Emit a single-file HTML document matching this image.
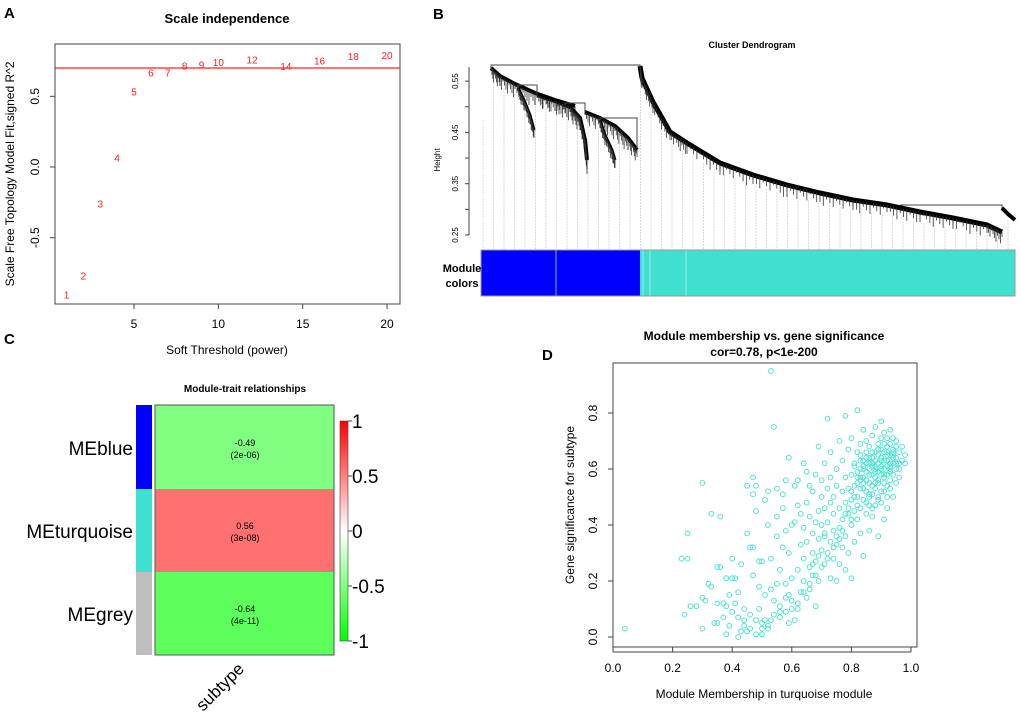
<!DOCTYPE html>
<html><head><meta charset="utf-8"><style>
html,body{margin:0;padding:0;background:#fff;}
svg{display:block;font-family:"Liberation Sans",Arial,sans-serif;}
</style></head><body>
<svg id="fig" width="1020" height="718" viewBox="0 0 1020 718" xmlns="http://www.w3.org/2000/svg">
<rect width="1020" height="718" fill="#fff"/>
<text x="4" y="18" font-size="15" font-weight="bold">A</text>
<text x="433" y="19" font-size="15" font-weight="bold">B</text>
<text x="4" y="344" font-size="15" font-weight="bold">C</text>
<text x="542" y="360" font-size="15" font-weight="bold">D</text>

<g id="panelA">
<text x="227" y="23" font-size="13" font-weight="bold" text-anchor="middle">Scale independence</text>
<rect x="55" y="44" width="345" height="260" fill="none" stroke="#444" stroke-width="1"/>
<text transform="translate(14,174) rotate(-90)" font-size="12" text-anchor="middle">Scale Free Topology Model Fit,signed R^2</text>
<text x="227" y="354" font-size="12" text-anchor="middle">Soft Threshold (power)</text>
</g>

<g id="panelB">
<text x="752" y="48" font-size="9" font-weight="bold" text-anchor="middle">Cluster Dendrogram</text>
<text transform="translate(440,160) rotate(-90)" font-size="8" text-anchor="middle">Height</text>
<g id="dendroLines"></g>
<g id="dendro"></g>
<rect x="481" y="250" width="159" height="46" fill="#0000ff"/>
<rect x="640" y="250" width="375" height="46" fill="#40e0d0"/>
<line x1="556" y1="250" x2="556" y2="296" stroke="#8fa8ff" stroke-width="1"/>
<line x1="643" y1="250" x2="643" y2="296" stroke="#9ed" stroke-width="1"/>
<line x1="650" y1="250" x2="650" y2="296" stroke="#9ed" stroke-width="1"/>
<line x1="686" y1="250" x2="686" y2="296" stroke="#9ed" stroke-width="1"/>
<rect x="481" y="250" width="534" height="46" fill="none" stroke="#999" stroke-width="1"/>
<text x="462" y="272" font-size="11" font-weight="bold" text-anchor="middle">Module</text>
<text x="462" y="287" font-size="11" font-weight="bold" text-anchor="middle">colors</text>
</g>

<g id="panelC">
<text x="245" y="392" font-size="10" font-weight="bold" text-anchor="middle">Module-trait relationships</text>
<rect x="136" y="405" width="16" height="84" fill="#0000ff"/>
<rect x="136" y="489" width="16" height="83" fill="#40e0d0"/>
<rect x="136" y="572" width="16" height="83" fill="#bebebe"/>
<rect x="155" y="405" width="179" height="84" fill="#80ff80"/>
<rect x="155" y="489" width="179" height="83" fill="#ff7070"/>
<rect x="155" y="572" width="179" height="83" fill="#5cff5c"/>
<rect x="155" y="405" width="179" height="250" fill="none" stroke="#555" stroke-width="1"/>
<text x="245" y="446" font-size="9" text-anchor="middle">-0.49</text>
<text x="245" y="458" font-size="9" text-anchor="middle">(2e-06)</text>
<text x="245" y="529" font-size="9" text-anchor="middle">0.56</text>
<text x="245" y="541" font-size="9" text-anchor="middle">(3e-08)</text>
<text x="245" y="612" font-size="9" text-anchor="middle">-0.64</text>
<text x="245" y="624" font-size="9" text-anchor="middle">(4e-11)</text>
<text x="133" y="455" font-size="19" text-anchor="end">MEblue</text>
<text x="133" y="538" font-size="19" text-anchor="end">MEturquoise</text>
<text x="133" y="621" font-size="19" text-anchor="end">MEgrey</text>
<text transform="translate(203,712) rotate(-45)" font-size="17">subtype</text>
<defs><linearGradient id="cb" x1="0" y1="0" x2="0" y2="1">
<stop offset="0" stop-color="#ff0000"/><stop offset="0.5" stop-color="#ffffff"/><stop offset="1" stop-color="#00ff00"/></linearGradient></defs>
<rect x="340" y="421" width="8" height="220" fill="url(#cb)" stroke="#444" stroke-width="0.6"/>
<g id="cbTicks"></g>
</g>

<g id="panelD">
<text x="764" y="340" font-size="12" font-weight="bold" text-anchor="middle">Module membership vs. gene significance</text>
<text x="764" y="356" font-size="12" font-weight="bold" text-anchor="middle">cor=0.78, p&lt;1e-200</text>
<rect x="613" y="363" width="304" height="284" fill="none" stroke="#444" stroke-width="1"/>
<text transform="translate(574,505) rotate(-90)" font-size="12" text-anchor="middle">Gene significance for subtype</text>
<text x="764" y="698" font-size="12" text-anchor="middle">Module Membership in turquoise module</text>
</g>
</svg>
<script>
const NS='http://www.w3.org/2000/svg';
const aPowers=[1,2,3,4,5,6,7,8,9,10,12,14,16,18,20];
const aFit=[-0.905,-0.77,-0.26,0.064,0.53,0.665,0.665,0.714,0.72,0.74,0.757,0.71,0.75,0.78,0.79];
const aXTicks=[5,10,15,20];
const aYTicks=[-0.5,0.0,0.5];
const aYTickLabels=['-0.5','0.0','0.5'];
const aCutoff=0.70;
const bYTicks=[0.25,0.30,0.35,0.40,0.45,0.50,0.55];
const bYTickLabels=['0.25','','0.35','','0.45','','0.55'];
const cTicks=[1,0.5,0,-0.5,-1];
const cTickLabels=['1','0.5','0','-0.5','-1'];
const dMM=[0.04,0.53,0.54,0.30,0.33,0.36,0.25,0.23,0.25,0.24,0.26,0.28,0.30,0.30,0.31,0.32,0.33,0.34,0.35,0.35,0.35,0.36,0.37,0.37,0.38,0.38,0.39,0.39,0.38,0.40,0.40,0.40,0.41,0.41,0.42,0.42,0.43,0.43,0.44,0.44,0.45,0.45,0.45,0.46,0.46,0.47,0.47,0.47,0.47,0.48,0.48,0.48,0.48,0.49,0.49,0.49,0.50,0.50,0.50,0.51,0.51,0.51,0.52,0.52,0.52,0.53,0.53,0.53,0.54,0.54,0.55,0.55,0.55,0.55,0.56,0.56,0.56,0.57,0.57,0.57,0.58,0.58,0.58,0.58,0.59,0.59,0.59,0.59,0.60,0.60,0.60,0.61,0.61,0.61,0.62,0.62,0.62,0.62,0.63,0.63,0.63,0.64,0.64,0.64,0.64,0.65,0.65,0.65,0.65,0.66,0.66,0.66,0.66,0.67,0.67,0.67,0.67,0.68,0.68,0.68,0.68,0.69,0.69,0.69,0.69,0.70,0.70,0.70,0.70,0.71,0.71,0.71,0.71,0.72,0.72,0.72,0.72,0.73,0.73,0.73,0.73,0.74,0.74,0.74,0.74,0.75,0.75,0.75,0.75,0.76,0.76,0.76,0.76,0.77,0.77,0.77,0.77,0.78,0.78,0.78,0.78,0.78,0.79,0.79,0.79,0.79,0.80,0.80,0.80,0.80,0.80,0.81,0.81,0.81,0.81,0.82,0.82,0.82,0.82,0.82,0.83,0.83,0.83,0.83,0.83,0.84,0.84,0.84,0.84,0.84,0.85,0.85,0.85,0.85,0.85,0.86,0.86,0.86,0.86,0.86,0.87,0.87,0.87,0.87,0.87,0.88,0.88,0.88,0.88,0.88,0.89,0.89,0.89,0.89,0.89,0.90,0.90,0.90,0.90,0.90,0.91,0.91,0.91,0.91,0.91,0.92,0.92,0.92,0.92,0.92,0.93,0.93,0.93,0.93,0.94,0.94,0.94,0.94,0.95,0.95,0.95,0.95,0.96,0.96,0.96,0.97,0.97,0.98,0.98,0.85,0.86,0.87,0.88,0.89,0.90,0.91,0.92,0.93,0.88,0.86,0.84,0.83,0.87,0.89,0.91,0.93,0.90,0.94,0.92,
0.81,0.82,0.83,0.84,0.85,0.86,0.87,0.88,0.89,0.90,0.91,0.92,0.93,0.94,0.95,0.96,0.82,0.83,0.84,0.85,0.86,0.87,0.88,0.89,0.90,0.91,0.92,0.93,0.94,0.95,0.80,0.81,0.82,0.83,0.84,0.85,0.86,0.87,0.88,0.89,0.90,0.91,0.92,0.93,0.94,0.78,0.79,0.80,0.76,0.77,0.74,0.75,0.72,0.73,0.70,0.71,0.68,0.69,0.66,0.67,0.64,0.62,0.60,0.58,0.56,0.52,0.50,0.46,0.44,0.42];
const dGS=[0.03,0.95,0.75,0.55,0.44,0.43,0.37,0.28,0.28,0.08,0.11,0.11,0.03,0.14,0.13,0.19,0.18,0.05,0.05,0.12,0.25,0.25,0.12,0.07,0.11,0.21,0.15,0.04,0.01,0.21,0.28,0.09,0.21,0.12,0.16,0.00,0.02,0.26,0.04,0.10,0.37,0.02,0.54,0.08,0.32,0.57,0.51,0.22,0.32,0.54,0.45,0.06,0.01,0.27,0.18,0.10,0.27,0.01,0.05,0.06,0.49,0.15,0.40,0.52,0.03,0.17,0.28,0.06,0.13,0.08,0.19,0.43,0.36,0.53,0.07,0.24,0.11,0.51,0.46,0.32,0.19,0.56,0.38,0.09,0.05,0.30,0.64,0.15,0.40,0.21,0.13,0.54,0.41,0.06,0.47,0.24,0.10,0.56,0.16,0.33,0.44,0.28,0.62,0.20,0.39,0.59,0.14,0.34,0.48,0.25,0.54,0.17,0.43,0.37,0.30,0.52,0.22,0.58,0.11,0.41,0.27,0.45,0.35,0.68,0.20,0.50,0.31,0.40,0.56,0.26,0.46,0.36,0.62,0.53,0.78,0.41,0.30,0.48,0.21,0.57,0.66,0.38,0.50,0.28,0.44,0.54,0.33,0.60,0.20,0.46,0.39,0.70,0.26,0.52,0.42,0.63,0.32,0.48,0.57,0.36,0.79,0.24,0.53,0.44,0.67,0.30,0.58,0.49,0.40,0.21,0.71,0.62,0.54,0.45,0.34,0.66,0.57,0.50,0.81,0.42,0.60,0.53,0.69,0.46,0.37,0.63,0.57,0.74,0.49,0.29,0.66,0.59,0.52,0.44,0.70,0.62,0.55,0.68,0.47,0.38,0.64,0.58,0.72,0.51,0.43,0.66,0.60,0.53,0.75,0.47,0.62,0.69,0.56,0.49,0.36,0.64,0.71,0.58,0.52,0.77,0.66,0.60,0.55,0.73,0.42,0.63,0.68,0.58,0.50,0.71,0.65,0.61,0.56,0.74,0.67,0.62,0.58,0.50,0.64,0.70,0.60,0.55,0.66,0.62,0.57,0.68,0.63,0.65,0.62,0.64,0.60,0.66,0.63,0.65,0.61,0.63,0.65,0.69,0.57,0.51,0.55,0.65,0.61,0.59,0.69,0.59,0.67,0.71,0.54,
0.61,0.59,0.63,0.61,0.62,0.64,0.62,0.61,0.67,0.63,0.58,0.66,0.62,0.64,0.68,0.60,0.55,0.57,0.60,0.56,0.58,0.54,0.59,0.55,0.60,0.57,0.61,0.60,0.66,0.62,0.52,0.50,0.47,0.56,0.53,0.48,0.50,0.46,0.55,0.50,0.48,0.52,0.46,0.53,0.65,0.44,0.46,0.42,0.35,0.38,0.32,0.36,0.28,0.34,0.25,0.37,0.22,0.29,0.19,0.26,0.16,0.12,0.10,0.14,0.09,0.04,0.03,0.03,0.06,0.07];
const dXTicks=[0,0.2,0.4,0.6,0.8,1.0];
const dXTickLabels=['0.0','0.2','0.4','0.6','0.8','1.0'];
const dYTicks=[0,0.2,0.4,0.6,0.8];
const dYTickLabels=['0.0','0.2','0.4','0.6','0.8'];

function mk(tag,attrs,parent){const e=document.createElementNS(NS,tag);for(const k in attrs)e.setAttribute(k,attrs[k]);parent.appendChild(e);return e;}

const gA=document.getElementById('panelA');
const ax=v=>134+(v-5)*16.87, ay=v=>167-v*141.4;
const cut=mk('line',{x1:55,x2:400,y1:ay(aCutoff),y2:ay(aCutoff),stroke:'#ff2020','stroke-width':1.2},gA);


aPowers.forEach((p,i)=>{const t=mk('text',{x:ax(p),y:ay(aFit[i])+3.5,'font-size':10,fill:'#ff2020','text-anchor':'middle'},gA);t.textContent=p;

});
aXTicks.forEach(v=>{const l=mk('line',{x1:ax(v),x2:ax(v),y1:304,y2:309,stroke:'#444'},gA);


const t=mk('text',{x:ax(v),y:328,'font-size':12,'text-anchor':'middle'},gA);t.textContent=v;

});
aYTicks.forEach((v,i)=>{const l=mk('line',{x1:50,x2:55,y1:ay(v),y2:ay(v),stroke:'#444'},gA);


const t=mk('text',{transform:`translate(39,${ay(v)}) rotate(-90)`,'font-size':12,'text-anchor':'middle'},gA);t.textContent=aYTickLabels[i];

});

const gB=document.getElementById('panelB');
const by=v=>235-(v-0.25)*513;
const bax=mk('line',{x1:469,x2:469,y1:by(0.25),y2:67,stroke:'#444'},gB);


bYTicks.forEach((v,i)=>{const l=mk('line',{x1:465,x2:469,y1:by(v),y2:by(v),stroke:'#444'},gB);


if(bYTickLabels[i]){const t=mk('text',{transform:`translate(458,${by(v)}) rotate(-90)`,'font-size':8,'text-anchor':'middle'},gB);t.textContent=bYTickLabels[i];

}});
const curT=[[640,66],[642,78],[653,102],[670,132],[687,143],[720,163],[753,175],[787,185],[820,193],[853,200],[887,205],[920,212],[953,218],[987,225],[1002,232]];
const blue1=[[491,68],[500,76],[515,84],[535,93],[555,100],[575,106]];
const blue1b=[[518,88],[524,100],[530,115],[534,130]];
const blue2=[[537,95],[555,101],[570,107],[580,118],[585,140],[587,160]];
const blue3=[[585,112],[600,118],[615,126],[628,138],[637,150]];
const blue4=[[600,120],[605,135],[612,150],[615,160]];
function interp(c,x){for(let i=0;i<c.length-1;i++){if(x>=c[i][0]&&x<=c[i+1][0]){const t=(x-c[i][0])/(c[i+1][0]-c[i][0]);return c[i][1]+t*(c[i+1][1]-c[i][1]);}}return null;}
const gL=document.getElementById('dendroLines'),gD=document.getElementById('dendro');
for(let x=483;x<1012;x+=10.5){let y=null;for(const c of [curT,blue1,blue2,blue3]){const v=interp(c,x);if(v!==null&&(y===null||v>y))y=v;}
if(y===null)y=x<640?(x<600?110:130):210;
const l=mk('line',{x1:x,x2:x,y1:y+10,y2:249,stroke:'#d0d0d0','stroke-width':0.8,'stroke-dasharray':'2,1'},gL);

}
function poly(c,w,name,fl){const p=mk('polyline',{points:c.map(q=>q.join(',')).join(' '),fill:'none',stroke:'#000','stroke-width':w,'stroke-linejoin':'round'},gD);


for(let i=0;i<c.length-1;i++){for(let s=0;s<1;s+=0.1){const x=c[i][0]+s*(c[i+1][0]-c[i][0]),y=c[i][1]+s*(c[i+1][1]-c[i][1]);
const f=mk('line',{x1:x,x2:x,y1:y,y2:y+3+((i*7+s*31)%fl),stroke:'#333','stroke-width':0.8},gD);

}}}
poly(curT,5,'turquoise-branch',10);poly(blue1,4,'blue-branch-1',12);poly(blue1b,3,'blue-branch-1b',8);poly(blue2,4,'blue-branch-2',12);poly(blue3,4,'blue-branch-3',12);poly(blue4,3,'blue-branch-4',8);
const joins=[[[491,68],[491,65],[640,65],[640,68]],[[518,88],[518,85],[537,85],[537,95]],[[565,105],[565,103],[585,103],[585,112]],[[600,120],[600,118],[637,118],[637,148]],[[900,205],[1002,205],[1002,210]]];
joins.forEach(j=>{const p=mk('polyline',{points:j.map(q=>q.join(',')).join(' '),fill:'none',stroke:'#444','stroke-width':1},gD);

});
const rc=mk('polyline',{points:'1002,208 1008,214 1015,220',fill:'none',stroke:'#000','stroke-width':4},gD);



const gC=document.getElementById('cbTicks');
const cy=v=>531-v*110;
cTicks.forEach((v,i)=>{const l=mk('line',{x1:348,x2:352,y1:cy(v),y2:cy(v),stroke:'#444'},gC);


const t=mk('text',{x:352,y:cy(v)+7,'font-size':19},gC);t.textContent=cTickLabels[i];

});

const gDd=document.getElementById('panelD');
const dx=v=>613+v*298, dy=v=>637-v*280;
dXTicks.forEach((v,i)=>{const l=mk('line',{x1:dx(v),x2:dx(v),y1:647,y2:652,stroke:'#444'},gDd);


const t=mk('text',{x:dx(v),y:672,'font-size':12,'text-anchor':'middle'},gDd);t.textContent=dXTickLabels[i];

});
const dxl=mk('line',{x1:dx(0),x2:dx(1),y1:652,y2:652,stroke:'#444'},gDd);


dYTicks.forEach((v,i)=>{const l=mk('line',{x1:608,x2:613,y1:dy(v),y2:dy(v),stroke:'#444'},gDd);


const t=mk('text',{transform:`translate(597,${dy(v)}) rotate(-90)`,'font-size':12,'text-anchor':'middle'},gDd);t.textContent=dYTickLabels[i];

});
dMM.forEach((m,i)=>{const c=mk('circle',{cx:dx(m),cy:dy(dGS[i]),r:2.4,fill:'none',stroke:'#40e0d0','stroke-width':0.9},gDd);

});
</script>
</body></html>
